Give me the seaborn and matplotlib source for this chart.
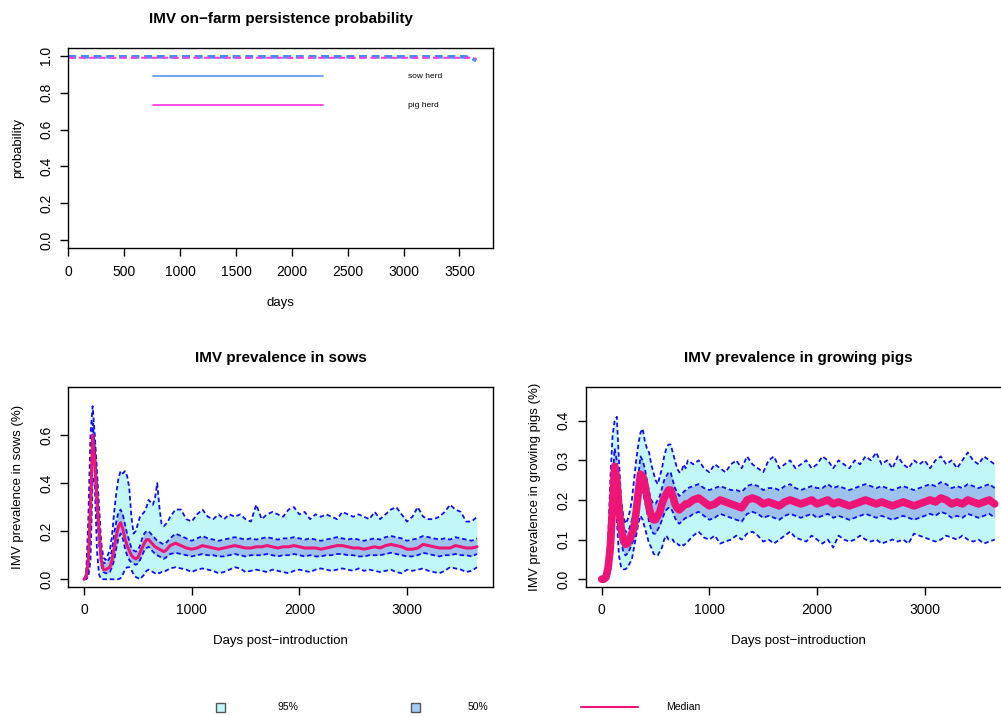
import numpy as np
import pandas as pd
import matplotlib
matplotlib.use("Agg")
import matplotlib.pyplot as plt
from matplotlib.patches import Rectangle
from matplotlib.lines import Line2D
import seaborn as sns

# ---------------- data ----------------
days_early = list(range(0, 801, 20))
days_late = list(range(850, 3651, 50))
days = days_early + days_late

# persistence probability (top panel)
persist_days = [0, 1000, 2000, 3000, 3550, 3600, 3650]
sow_persist = [0.995, 0.995, 0.995, 0.995, 0.995, 0.99, 0.975]
pig_persist = [0.99, 0.99, 0.99, 0.99, 0.99, 0.99, 0.985]

# sows prevalence
sow_med = [0, 0.01, 0.08, 0.3, 0.6, 0.48, 0.33, 0.2, 0.08, 0.04, 0.04, 0.045, 0.05, 0.08, 0.13, 0.18,
           0.22, 0.235, 0.21, 0.17, 0.14, 0.12, 0.1, 0.09, 0.085, 0.09, 0.11, 0.13, 0.15, 0.165, 0.165,
           0.155, 0.145, 0.135, 0.13, 0.125, 0.12, 0.115, 0.12, 0.13, 0.14,
           0.15, 0.14, 0.13, 0.125, 0.13, 0.14, 0.135, 0.13, 0.125, 0.13, 0.135, 0.14, 0.135, 0.13, 0.13,
           0.135, 0.135, 0.14, 0.135, 0.13, 0.135, 0.135, 0.14, 0.135, 0.13, 0.13, 0.13, 0.125, 0.13,
           0.135, 0.14, 0.14, 0.135, 0.13, 0.13, 0.125, 0.13, 0.135, 0.13, 0.14, 0.145, 0.14, 0.135,
           0.125, 0.125, 0.13, 0.145, 0.14, 0.135, 0.13, 0.13, 0.13, 0.14, 0.135, 0.13, 0.13, 0.135]
sow_hi95 = [0, 0.02, 0.25, 0.6, 0.72, 0.6, 0.45, 0.3, 0.15, 0.09, 0.08, 0.1, 0.12, 0.18, 0.28, 0.36,
            0.42, 0.45, 0.44, 0.45, 0.43, 0.38, 0.26, 0.19, 0.2, 0.23, 0.26, 0.27, 0.28, 0.3, 0.33,
            0.32, 0.31, 0.34, 0.4, 0.3, 0.23, 0.22, 0.23, 0.24, 0.26,
            0.29, 0.29, 0.25, 0.24, 0.27, 0.29, 0.26, 0.25, 0.27, 0.25, 0.27, 0.26, 0.27, 0.25, 0.24,
            0.31, 0.25, 0.27, 0.28, 0.27, 0.26, 0.29, 0.3, 0.27, 0.28, 0.25, 0.27, 0.26, 0.27, 0.26,
            0.25, 0.28, 0.27, 0.26, 0.27, 0.26, 0.25, 0.28, 0.25, 0.27, 0.29, 0.3, 0.27, 0.24, 0.26,
            0.3, 0.26, 0.25, 0.25, 0.26, 0.28, 0.31, 0.29, 0.28, 0.24, 0.24, 0.26]
sow_lo95 = [0, 0, 0.01, 0.08, 0.42, 0.4, 0.12, 0.02, 0, 0, 0, 0, 0, 0, 0, 0,
            0, 0.005, 0.02, 0.04, 0.05, 0.05, 0.04, 0.02, 0.01, 0.005, 0, 0.01, 0.02, 0.035, 0.04,
            0.035, 0.03, 0.025, 0.03, 0.025, 0.03, 0.03, 0.035, 0.04, 0.045,
            0.05, 0.045, 0.04, 0.03, 0.04, 0.045, 0.04, 0.035, 0.025, 0.03, 0.04, 0.05, 0.045, 0.03,
            0.035, 0.04, 0.035, 0.03, 0.04, 0.035, 0.03, 0.025, 0.035, 0.04, 0.035, 0.03, 0.04, 0.045,
            0.04, 0.035, 0.04, 0.045, 0.04, 0.035, 0.045, 0.035, 0.04, 0.035, 0.03, 0.035, 0.04, 0.03,
            0.025, 0.04, 0.035, 0.04, 0.045, 0.035, 0.03, 0.025, 0.035, 0.05, 0.045, 0.04, 0.03, 0.035, 0.05]
sow_hi50 = [0, 0.015, 0.12, 0.4, 0.65, 0.55, 0.38, 0.22, 0.1, 0.065, 0.07, 0.075, 0.09, 0.12, 0.19, 0.24,
            0.28, 0.29, 0.27, 0.23, 0.19, 0.16, 0.13, 0.12, 0.115, 0.12, 0.14, 0.17, 0.19, 0.2, 0.2,
            0.19, 0.18, 0.17, 0.16, 0.155, 0.15, 0.145, 0.15, 0.16, 0.17,
            0.19, 0.18, 0.17, 0.16, 0.17, 0.18, 0.17, 0.165, 0.16, 0.165, 0.17, 0.175, 0.17, 0.165, 0.17,
            0.165, 0.17, 0.175, 0.17, 0.165, 0.17, 0.17, 0.175, 0.17, 0.165, 0.17, 0.165, 0.16, 0.165,
            0.17, 0.175, 0.17, 0.165, 0.17, 0.165, 0.16, 0.165, 0.17, 0.165, 0.175, 0.18, 0.175, 0.17,
            0.16, 0.165, 0.17, 0.18, 0.175, 0.17, 0.165, 0.17, 0.165, 0.175, 0.17, 0.165, 0.16, 0.17]
sow_lo50 = [0, 0.005, 0.04, 0.22, 0.55, 0.45, 0.28, 0.15, 0.06, 0.03, 0.025, 0.025, 0.03, 0.05, 0.08, 0.13,
            0.17, 0.19, 0.17, 0.13, 0.1, 0.08, 0.07, 0.065, 0.06, 0.065, 0.08, 0.1, 0.12, 0.13, 0.135,
            0.125, 0.115, 0.105, 0.1, 0.095, 0.09, 0.085, 0.09, 0.1, 0.105,
            0.11, 0.105, 0.1, 0.095, 0.1, 0.105, 0.1, 0.1, 0.095, 0.095, 0.1, 0.105, 0.1, 0.095, 0.1,
            0.1, 0.1, 0.105, 0.1, 0.095, 0.1, 0.1, 0.105, 0.1, 0.095, 0.1, 0.095, 0.095, 0.1,
            0.1, 0.105, 0.105, 0.1, 0.1, 0.095, 0.095, 0.1, 0.1, 0.1, 0.105, 0.11, 0.105, 0.1,
            0.095, 0.095, 0.1, 0.11, 0.105, 0.1, 0.095, 0.1, 0.1, 0.105, 0.1, 0.1, 0.095, 0.105]

# growing pigs prevalence
pig_med = [0, 0, 0.005, 0.03, 0.08, 0.18, 0.285, 0.25, 0.18, 0.13, 0.1, 0.088, 0.09, 0.1, 0.115, 0.13,
           0.17, 0.22, 0.265, 0.26, 0.24, 0.21, 0.18, 0.16, 0.15, 0.15, 0.16, 0.17, 0.19, 0.205, 0.215,
           0.225, 0.225, 0.21, 0.19, 0.18, 0.175, 0.18, 0.185, 0.19, 0.19,
           0.2, 0.205, 0.195, 0.185, 0.19, 0.2, 0.195, 0.19, 0.185, 0.18, 0.2, 0.205, 0.2, 0.19, 0.195,
           0.19, 0.185, 0.195, 0.2, 0.195, 0.19, 0.195, 0.2, 0.19, 0.195, 0.2, 0.19, 0.195, 0.19,
           0.185, 0.19, 0.195, 0.2, 0.195, 0.19, 0.195, 0.19, 0.185, 0.19, 0.195, 0.19, 0.185, 0.19,
           0.195, 0.2, 0.195, 0.205, 0.2, 0.19, 0.195, 0.19, 0.2, 0.195, 0.19, 0.195, 0.2, 0.19]
pig_hi95 = [0, 0.005, 0.03, 0.1, 0.25, 0.36, 0.4, 0.41, 0.3, 0.2, 0.16, 0.14, 0.15, 0.17, 0.2, 0.25,
            0.3, 0.34, 0.37, 0.38, 0.35, 0.33, 0.32, 0.29, 0.27, 0.25, 0.24, 0.26, 0.28, 0.31, 0.33,
            0.34, 0.34, 0.32, 0.3, 0.28, 0.27, 0.27, 0.29, 0.28, 0.3,
            0.29, 0.3, 0.28, 0.27, 0.29, 0.28, 0.27, 0.29, 0.3, 0.28, 0.31, 0.29, 0.28, 0.27, 0.3,
            0.31, 0.28, 0.29, 0.3, 0.28, 0.29, 0.3, 0.28, 0.29, 0.31, 0.3, 0.28, 0.3, 0.29,
            0.28, 0.3, 0.29, 0.31, 0.3, 0.32, 0.29, 0.3, 0.28, 0.31, 0.29, 0.28, 0.3, 0.29,
            0.3, 0.28, 0.3, 0.31, 0.29, 0.3, 0.28, 0.3, 0.32, 0.3, 0.29, 0.31, 0.3, 0.29]
pig_lo95 = [0, 0, 0, 0.005, 0.02, 0.1, 0.2, 0.15, 0.06, 0.03, 0.025, 0.025, 0.03, 0.04, 0.05, 0.08,
            0.11, 0.14, 0.16, 0.15, 0.13, 0.11, 0.09, 0.08, 0.065, 0.06, 0.06, 0.07, 0.08, 0.1, 0.11,
            0.1, 0.1, 0.1, 0.09, 0.09, 0.085, 0.09, 0.085, 0.09, 0.095,
            0.11, 0.12, 0.105, 0.1, 0.11, 0.09, 0.095, 0.1, 0.11, 0.1, 0.115, 0.12, 0.11, 0.095, 0.1,
            0.09, 0.1, 0.11, 0.12, 0.105, 0.1, 0.095, 0.11, 0.1, 0.09, 0.1, 0.08, 0.11, 0.1,
            0.095, 0.1, 0.11, 0.1, 0.095, 0.1, 0.09, 0.095, 0.1, 0.095, 0.1, 0.09, 0.115, 0.11,
            0.105, 0.1, 0.095, 0.1, 0.11, 0.105, 0.1, 0.11, 0.1, 0.095, 0.1, 0.09, 0.095, 0.1]
pig_hi50 = [0, 0.002, 0.01, 0.05, 0.12, 0.24, 0.33, 0.3, 0.23, 0.17, 0.13, 0.12, 0.12, 0.13, 0.15, 0.17,
            0.21, 0.26, 0.31, 0.3, 0.28, 0.25, 0.22, 0.2, 0.19, 0.19, 0.2, 0.21, 0.23, 0.25, 0.26,
            0.27, 0.27, 0.25, 0.23, 0.22, 0.21, 0.215, 0.22, 0.225, 0.23,
            0.235, 0.24, 0.23, 0.225, 0.23, 0.235, 0.23, 0.225, 0.225, 0.22, 0.235, 0.24, 0.235, 0.225, 0.23,
            0.23, 0.225, 0.235, 0.24, 0.23, 0.225, 0.23, 0.235, 0.23, 0.23, 0.24, 0.23, 0.235, 0.23,
            0.225, 0.23, 0.235, 0.24, 0.235, 0.23, 0.235, 0.23, 0.225, 0.23, 0.235, 0.23, 0.225, 0.23,
            0.235, 0.24, 0.235, 0.245, 0.24, 0.23, 0.235, 0.23, 0.24, 0.235, 0.23, 0.235, 0.24, 0.23]
pig_lo50 = [0, 0, 0.002, 0.015, 0.05, 0.13, 0.24, 0.21, 0.14, 0.095, 0.07, 0.06, 0.065, 0.075, 0.09, 0.1,
            0.13, 0.18, 0.22, 0.22, 0.2, 0.17, 0.145, 0.125, 0.115, 0.115, 0.125, 0.135, 0.15, 0.165, 0.175,
            0.18, 0.18, 0.17, 0.155, 0.145, 0.14, 0.145, 0.15, 0.155, 0.155,
            0.165, 0.17, 0.16, 0.15, 0.155, 0.165, 0.16, 0.155, 0.15, 0.145, 0.165, 0.17, 0.165, 0.155, 0.16,
            0.155, 0.15, 0.16, 0.165, 0.16, 0.155, 0.16, 0.165, 0.155, 0.16, 0.165, 0.155, 0.16, 0.155,
            0.15, 0.155, 0.16, 0.165, 0.16, 0.155, 0.16, 0.155, 0.15, 0.155, 0.16, 0.155, 0.15, 0.155,
            0.16, 0.165, 0.16, 0.17, 0.165, 0.155, 0.16, 0.155, 0.165, 0.16, 0.155, 0.16, 0.165, 0.155]

legend_labels = ["95%", "50%", "Median"]
persist_labels = ["sow herd", "pig herd"]

# ---------------- style ----------------
sns.set_style("white")
plt.rcParams["font.family"] = ["Liberation Sans", "DejaVu Sans"]
plt.rcParams["axes.linewidth"] = 1.0
plt.rcParams["text.color"] = "black"
plt.rcParams["axes.labelcolor"] = "black"
plt.rcParams["xtick.color"] = "black"
plt.rcParams["ytick.color"] = "black"

C95 = "#c2f7f7"
C50 = "#9dc2ee"
CQ = "#1010f0"
CMED = "#ee1577"
CSOW = "#3d8ef0"
CPIG = "#ff3ce0"

fig = plt.figure(figsize=(10.01, 7.17), dpi=100)
W, H = 1001, 717


def add_ax(left, top, width, height):
    return fig.add_axes([left / W, 1 - (top + height) / H, width / W, height / H])


def style_ax(ax, xticks, yticks, xlabel, ylabel, title):
    for s in ax.spines.values():
        s.set_visible(True)
        s.set_color("black")
        s.set_linewidth(1.0)
    ax.set_xticks(xticks)
    ax.set_yticks(yticks)
    ax.set_yticklabels([("%.1f" % v) for v in yticks], rotation=90, va="center")
    ax.tick_params(axis="both", which="both", direction="out", length=6, width=1,
                   labelsize=10, colors="black", bottom=True, left=True)
    ax.tick_params(axis="x", pad=6)
    ax.tick_params(axis="y", pad=5)
    ax.set_xlabel(xlabel, fontsize=9.5, labelpad=13, color="black")
    ax.set_ylabel(ylabel, fontsize=9.5, labelpad=11, color="black")
    ax.set_title(title, fontsize=11, fontweight="bold", pad=18, color="black")
    ax.grid(False)


# ---------------- top panel ----------------
ax0 = add_ax(68.3, 48, 424.7, 200)
dfp = pd.DataFrame({"day": persist_days, "sow": sow_persist, "pig": pig_persist})
sns.lineplot(data=dfp, x="day", y="sow", ax=ax0, color=CSOW, lw=2.6, linestyle=(0, (2.2, 1.3)))
sns.lineplot(data=dfp, x="day", y="pig", ax=ax0, color=CPIG, lw=1.5, linestyle=(0, (3, 2)))
ax0.set_xlim(0, 3800)
ax0.set_ylim(-0.043, 1.043)
style_ax(ax0, [0, 500, 1000, 1500, 2000, 2500, 3000, 3500], [0.0, 0.2, 0.4, 0.6, 0.8, 1.0],
         "days", "probability", "IMV on\u2212farm persistence probability")
ax0.set_xticklabels([str(v) for v in [0, 500, 1000, 1500, 2000, 2500, 3000, 3500]])
# in-panel legend
for yv, col, lab in [(0.889, "#6aa6f5", persist_labels[0]), (0.732, "#ff4fe6", persist_labels[1])]:
    ax0.plot([758, 2280], [yv, yv], color=col, lw=1.4)
    ax0.text(3040, yv, lab, fontsize=6, va="center", ha="left", color="black")


def quant_panel(ax, q_lo95, q_lo50, q_med, q_hi50, q_hi95, med_lw):
    df = pd.DataFrame({"day": days, "lo95": q_lo95, "lo50": q_lo50, "med": q_med,
                       "hi50": q_hi50, "hi95": q_hi95})
    ax.fill_between(df["day"], df["lo95"], df["hi95"], color=C95, lw=0)
    ax.fill_between(df["day"], df["lo50"], df["hi50"], color=C50, lw=0)
    for col in ["lo95", "lo50", "hi50", "hi95"]:
        sns.lineplot(data=df, x="day", y=col, ax=ax, color=CQ, lw=1.3, linestyle=(0, (2.5, 1.6)))
    sns.lineplot(data=df, x="day", y="med", ax=ax, color=CMED, lw=med_lw)
    ax.set_xlim(-146, 3796)


# ---------------- bottom left ----------------
ax1 = add_ax(68.3, 386.7, 424.4, 200)
quant_panel(ax1, sow_lo95, sow_lo50, sow_med, sow_hi50, sow_hi95, 2.2)
ax1.set_ylim(-0.031, 0.801)
style_ax(ax1, [0, 1000, 2000, 3000], [0.0, 0.2, 0.4, 0.6],
         "Days post\u2212introduction", "IMV prevalence in sows (%)", "IMV prevalence in sows")
ax1.set_xticklabels(["0", "1000", "2000", "3000"])

# ---------------- bottom right ----------------
ax2 = add_ax(586, 386.7, 424.4, 200)
quant_panel(ax2, pig_lo95, pig_lo50, pig_med, pig_hi50, pig_hi95, 5.5)
ax2.set_ylim(-0.019, 0.486)
style_ax(ax2, [0, 1000, 2000, 3000], [0.0, 0.1, 0.2, 0.3, 0.4],
         "Days post\u2212introduction", "IMV prevalence in growing pigs (%)", "IMV prevalence in growing pigs")
ax2.set_xticklabels(["0", "1000", "2000", "3000"])

# ---------------- bottom legend ----------------
yl = 1 - 707 / H
bw, bh = 9 / W, 9 / H
fig.patches.append(Rectangle((215.5 / W, yl - bh / 2), bw, bh, transform=fig.transFigure,
                             facecolor=C95, edgecolor="#555555", lw=1))
fig.text(277 / W, yl, legend_labels[0], fontsize=7.5, va="center", ha="left", color="black")
fig.patches.append(Rectangle((410.7 / W, yl - bh / 2), bw, bh, transform=fig.transFigure,
                             facecolor="#a6cbf5", edgecolor="#555555", lw=1))
fig.text(468 / W, yl, legend_labels[1], fontsize=7.5, va="center", ha="left", color="black")
fig.lines.append(Line2D([581 / W, 638 / W], [yl, yl], transform=fig.transFigure, color=CMED, lw=1.5))
fig.text(666 / W, yl, legend_labels[2], fontsize=7.5, va="center", ha="left", color="black")

for a in [ax0, ax1, ax2]:
    leg = a.get_legend()
    if leg:
        leg.remove()

fig.savefig("out.png", dpi=100)
